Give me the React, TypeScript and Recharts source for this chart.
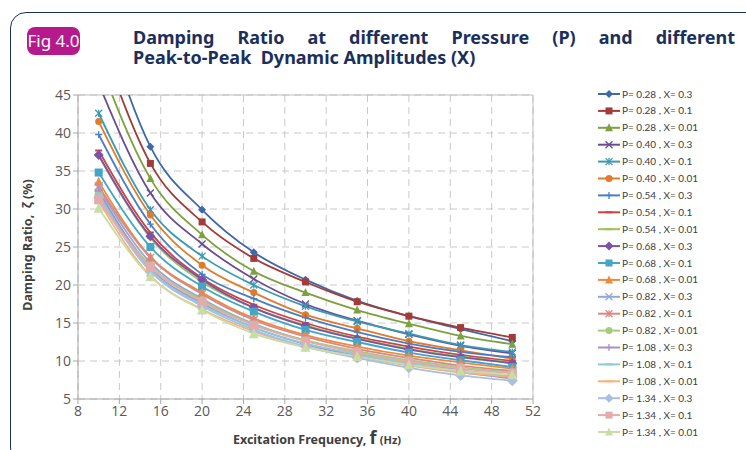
import React from "react";
import { LineChart, Line, XAxis, YAxis, CartesianGrid, ReferenceLine } from "recharts";

// excitation frequency (Hz)
const FREQ = [10, 15, 20, 25, 30, 35, 40, 45, 50];

// damping ratio (%) per pressure / amplitude
const P028_X03 = [57.0, 38.2, 29.9, 24.3, 20.7, 17.9, 15.9, 14.2, 12.6];
const P028_X01 = [53.0, 36.0, 28.3, 23.5, 20.4, 17.8, 15.9, 14.4, 13.1];
const P028_X001 = [49.5, 34.0, 26.6, 21.8, 19.0, 16.7, 14.9, 13.3, 12.2];
const P040_X03 = [46.5, 32.1, 25.4, 20.8, 17.5, 15.3, 13.5, 12.0, 11.0];
const P040_X01 = [42.6, 29.9, 23.8, 20.0, 17.2, 15.2, 13.6, 12.1, 11.2];
const P040_X001 = [41.5, 29.2, 22.6, 19.0, 16.1, 14.3, 12.6, 11.4, 10.3];
const P054_X03 = [39.8, 28.0, 21.4, 18.2, 15.7, 13.8, 12.3, 11.2, 10.5];
const P054_X01 = [37.7, 26.9, 20.9, 17.4, 15.0, 13.2, 11.9, 10.8, 10.0];
const P054_X001 = [37.0, 26.2, 20.4, 17.0, 14.7, 13.0, 11.6, 10.6, 9.8];
const P068_X03 = [37.1, 26.4, 20.7, 17.0, 14.6, 12.9, 11.5, 10.5, 9.7];
const P068_X01 = [34.8, 25.0, 19.8, 16.5, 14.1, 12.5, 11.1, 10.1, 9.2];
const P068_X001 = [33.6, 23.7, 19.0, 15.6, 13.4, 11.9, 10.7, 9.8, 9.0];
const P082_X03 = [32.8, 22.9, 18.2, 14.9, 12.7, 11.1, 9.9, 8.8, 8.1];
const P082_X01 = [33.0, 23.6, 18.8, 15.4, 13.2, 11.6, 10.4, 9.4, 8.7];
const P082_X001 = [32.0, 22.5, 18.0, 14.8, 12.7, 11.3, 10.1, 9.2, 8.5];
const P108_X03 = [32.4, 22.2, 17.6, 14.4, 12.2, 10.7, 9.5, 8.5, 7.7];
const P108_X01 = [31.8, 22.0, 17.4, 14.4, 12.3, 10.9, 9.7, 8.7, 8.0];
const P108_X001 = [31.0, 21.2, 16.8, 13.9, 11.9, 10.5, 9.4, 8.5, 7.9];
const P134_X03 = [31.5, 21.8, 17.2, 14.1, 11.9, 10.4, 9.1, 8.1, 7.4];
const P134_X01 = [31.2, 22.4, 17.8, 14.7, 12.6, 11.1, 9.9, 9.0, 8.4];
const P134_X001 = [30.1, 21.1, 16.7, 13.6, 11.8, 10.6, 9.5, 8.7, 8.2];

const X_TICKS = [8, 12, 16, 20, 24, 28, 32, 36, 40, 44, 48, 52];
const Y_TICKS = [5, 10, 15, 20, 25, 30, 35, 40, 45];

type Shape = "diamond" | "square" | "triangle" | "x" | "star" | "circle" | "plus" | "dash";

const SERIES: { name: string; values: number[]; color: string; shape: Shape; size: number }[] = [
  { name: "P= 0.28 , X= 0.3", values: P028_X03, color: "#3f68a8", shape: "diamond", size: 6 },
  { name: "P= 0.28 , X= 0.1", values: P028_X01, color: "#a33b38", shape: "square", size: 7 },
  { name: "P= 0.28 , X= 0.01", values: P028_X001, color: "#7ea03f", shape: "triangle", size: 7 },
  { name: "P= 0.40 , X= 0.3", values: P040_X03, color: "#6a4d92", shape: "x", size: 7 },
  { name: "P= 0.40 , X= 0.1", values: P040_X01, color: "#3a9ab4", shape: "star", size: 7 },
  { name: "P= 0.40 , X= 0.01", values: P040_X001, color: "#e07b2c", shape: "circle", size: 7 },
  { name: "P= 0.54 , X= 0.3", values: P054_X03, color: "#4a7ec4", shape: "plus", size: 7 },
  { name: "P= 0.54 , X= 0.1", values: P054_X01, color: "#cc4444", shape: "dash", size: 7 },
  { name: "P= 0.54 , X= 0.01", values: P054_X001, color: "#9cc05a", shape: "dash", size: 7 },
  { name: "P= 0.68 , X= 0.3", values: P068_X03, color: "#7b52a6", shape: "diamond", size: 8 },
  { name: "P= 0.68 , X= 0.1", values: P068_X01, color: "#42a6c6", shape: "square", size: 8 },
  { name: "P= 0.68 , X= 0.01", values: P068_X001, color: "#f08a3a", shape: "triangle", size: 8 },
  { name: "P= 0.82 , X= 0.3", values: P082_X03, color: "#8fa8d8", shape: "x", size: 8 },
  { name: "P= 0.82 , X= 0.1", values: P082_X01, color: "#d98886", shape: "star", size: 8 },
  { name: "P= 0.82 , X= 0.01", values: P082_X001, color: "#a8cb7b", shape: "circle", size: 8 },
  { name: "P= 1.08 , X= 0.3", values: P108_X03, color: "#a693c4", shape: "plus", size: 8 },
  { name: "P= 1.08 , X= 0.1", values: P108_X01, color: "#86cbe0", shape: "dash", size: 8 },
  { name: "P= 1.08 , X= 0.01", values: P108_X001, color: "#f8b07a", shape: "dash", size: 8 },
  { name: "P= 1.34 , X= 0.3", values: P134_X03, color: "#a8bee2", shape: "diamond", size: 9 },
  { name: "P= 1.34 , X= 0.1", values: P134_X01, color: "#e2acab", shape: "square", size: 9 },
  { name: "P= 1.34 , X= 0.01", values: P134_X001, color: "#c8dca8", shape: "triangle", size: 9 },
];

const data = FREQ.map((f, i) => {
  const row: Record<string, number> = { f };
  SERIES.forEach((s, k) => {
    row["s" + k] = s.values[i];
  });
  return row;
});

function Marker({ cx, cy, shape, size, color }: { cx: number; cy: number; shape: Shape; size: number; color: string }) {
  const h = size / 2;
  switch (shape) {
    case "diamond":
      return <polygon points={`${cx},${cy - h - 1} ${cx + h + 1},${cy} ${cx},${cy + h + 1} ${cx - h - 1},${cy}`} fill={color} />;
    case "square":
      return <rect x={cx - h} y={cy - h} width={size} height={size} fill={color} />;
    case "triangle":
      return <polygon points={`${cx},${cy - h - 1} ${cx + h + 0.5},${cy + h} ${cx - h - 0.5},${cy + h}`} fill={color} />;
    case "x":
      return (
        <g stroke={color} strokeWidth={1.3}>
          <line x1={cx - h} y1={cy - h} x2={cx + h} y2={cy + h} />
          <line x1={cx - h} y1={cy + h} x2={cx + h} y2={cy - h} />
        </g>
      );
    case "star":
      return (
        <g stroke={color} strokeWidth={1.3}>
          <line x1={cx - h} y1={cy - h} x2={cx + h} y2={cy + h} />
          <line x1={cx - h} y1={cy + h} x2={cx + h} y2={cy - h} />
          <line x1={cx} y1={cy - h} x2={cx} y2={cy + h} />
        </g>
      );
    case "circle":
      return <circle cx={cx} cy={cy} r={h} fill={color} />;
    case "plus":
      return (
        <g stroke={color} strokeWidth={1.3}>
          <line x1={cx - h} y1={cy} x2={cx + h} y2={cy} />
          <line x1={cx} y1={cy - h} x2={cx} y2={cy + h} />
        </g>
      );
    default:
      return <line x1={cx - h} y1={cy} x2={cx + h} y2={cy} stroke={color} strokeWidth={2} />;
  }
}

const NAVY = "#1b2f5b";
const AXIS = "#a6a6a6";
const TICK = { fill: "#595959", fontSize: 14, fontFamily: "Open Sans" };

function ChartLegend() {
  return (
    <svg width={150} height={360} style={{ position: "absolute", left: 594, top: 84 }}>
      {SERIES.map((s, i) => {
        const y = 10 + i * 16.9;
        return (
          <g key={s.name}>
            <line x1={4} y1={y} x2={26} y2={y} stroke={s.color} strokeWidth={2} />
            <Marker cx={15} cy={y} shape={s.shape} size={Math.min(s.size, 7)} color={s.color} />
            <text x={28} y={y + 3.5} fontSize={10} fontFamily="Liberation Sans Narrow, Lato" fill="#404040">
              {s.name}
            </text>
          </g>
        );
      })}
    </svg>
  );
}

export default function App() {
  return (
    <div style={{ position: "absolute", left: 0, top: 0, width: 746, height: 450, overflow: "hidden", background: "#fff" }}>
      <div
        style={{
          position: "absolute",
          left: 10,
          top: 12,
          width: 780,
          height: 450,
          border: `1.5px solid ${NAVY}`,
          borderRadius: 16,
        }}
      />
      <div
        style={{
          position: "absolute",
          left: 27,
          top: 27,
          width: 53,
          height: 28,
          borderRadius: 8,
          background: "#b5198b",
          color: "#fff",
          fontFamily: "Noto Sans",
          fontSize: 17,
          lineHeight: "28px",
          textAlign: "center",
        }}
      >
        Fig 4.0
      </div>
      <div
        style={{
          position: "absolute",
          left: 133,
          top: 27,
          width: 602,
          fontFamily: "Noto Sans",
          fontWeight: 700,
          fontSize: 18,
          lineHeight: "21px",
          color: NAVY,
        }}
      >
        <div style={{ textAlign: "justify", textAlignLast: "justify", height: 20 }}>
          Damping Ratio at different Pressure (P) and different
        </div>
        <div>Peak-to-Peak&nbsp; Dynamic Amplitudes (X)</div>
      </div>

      <div style={{ position: "absolute", left: 0, top: 0 }}>
        <LineChart width={746} height={450} data={data} margin={{ top: 95, right: 213, bottom: 21, left: 0 }}>
          <CartesianGrid stroke="#c8c8c8" strokeDasharray="7 5" />
          <XAxis
            type="number"
            dataKey="f"
            domain={[8, 52]}
            ticks={X_TICKS}
            height={30}
            tick={TICK}
            tickSize={5}
            tickLine={{ stroke: AXIS }}
            axisLine={{ stroke: AXIS }}
            interval={0}
          />
          <YAxis
            type="number"
            domain={[5, 45]}
            ticks={Y_TICKS}
            width={78}
            allowDataOverflow
            tick={TICK}
            tickSize={5}
            tickLine={{ stroke: AXIS }}
            axisLine={{ stroke: AXIS }}
            interval={0}
          />
          <ReferenceLine y={45} stroke="#bfbfbf" />
          <ReferenceLine x={52} stroke="#bfbfbf" />
          {SERIES.map((s, k) => (
            <Line
              key={s.name}
              type="monotone"
              dataKey={"s" + k}
              stroke={s.color}
              strokeWidth={1.8}
              isAnimationActive={false}
              dot={(p: any) => (
                <Marker key={`${k}-${p.index}`} cx={p.cx} cy={p.cy} shape={s.shape} size={s.size} color={s.color} />
              )}
              activeDot={false}
            />
          ))}
        </LineChart>
      </div>

      <ChartLegend />

      <div
        style={{
          position: "absolute",
          left: 27,
          top: 245,
          transform: "translate(-50%, -50%) rotate(-90deg)",
          whiteSpace: "nowrap",
          fontFamily: "Noto Sans",
          fontWeight: 700,
          fontSize: 12.5,
          color: "#404040",
        }}
      >
        Damping Ratio,&nbsp; ζ (%)
      </div>
      <div
        style={{
          position: "absolute",
          left: 317,
          top: 438,
          transform: "translate(-50%, -50%)",
          whiteSpace: "nowrap",
          fontFamily: "Noto Sans",
          fontWeight: 700,
          fontSize: 12.5,
          lineHeight: "16px",
          color: "#404040",
        }}
      >
        Excitation Frequency, <span style={{ fontSize: 18, lineHeight: "16px" }}>f</span>{" "}
        <span style={{ fontSize: 11 }}>(Hz)</span>
      </div>
    </div>
  );
}
